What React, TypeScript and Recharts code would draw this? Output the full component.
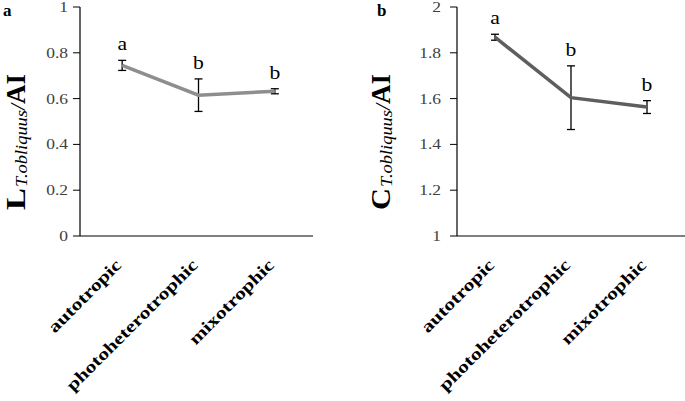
import React from 'react';
import { LineChart, Line, XAxis, YAxis, ErrorBar, LabelList } from 'recharts';

const CATEGORIES = ['autotropic', 'photoheterotrophic', 'mixotrophic'];
const LETTERS = ['a', 'b', 'b'];

// panel a: L / AI
const L_MEAN = [0.745, 0.615, 0.632];
const L_ERR = [0.022, 0.071, 0.011];
const L_TICKS = [0, 0.2, 0.4, 0.6, 0.8, 1];

// panel b: C / AI
const C_MEAN = [1.868, 1.604, 1.563];
const C_ERR = [0.013, 0.139, 0.028];
const C_TICKS = [1, 1.2, 1.4, 1.6, 1.8, 2];

const SERIF = '"Liberation Serif", "Times New Roman", serif';

const buildRows = (mean: number[], err: number[]) =>
  CATEGORIES.map((name, i) => ({
    name,
    mean: mean[i],
    err: err[i],
    top: mean[i] + err[i],
    letter: LETTERS[i],
  }));

const rowsL = buildRows(L_MEAN, L_ERR);
const rowsC = buildRows(C_MEAN, C_ERR);

function YTick(props: any) {
  const { x, y, payload } = props;
  return (
    <text
      transform={`translate(${x},${y}) scale(1.25,1)`}
      textAnchor="end"
      dy="0.36em"
      fontFamily={SERIF}
      fontSize={14}
      fill="#404040"
    >
      {payload.value}
    </text>
  );
}

function XTick(props: any) {
  const { x, y, payload } = props;
  return (
    <text
      transform={`translate(${x - 4},${y}) rotate(-45) scale(1.27,1)`}
      textAnchor="end"
      dy="0.35em"
      fontFamily={SERIF}
      fontSize={17}
      fontWeight="bold"
      fill="#000"
    >
      {payload.value}
    </text>
  );
}

// custom content gets the raw point, so the gap above the error bar is applied here
function Letter(props: any) {
  const { x, y, value } = props;
  return (
    <text
      transform={`translate(${x},${y - 10}) scale(1.2,1)`}
      textAnchor="middle"
      fontFamily={SERIF}
      fontSize={18}
      fill="#000"
    >
      {value}
    </text>
  );
}

// rotated y title: big bold head letter, italic subscript, bold "/AI"
function Title({ head, panel, baseX, panelX }: any) {
  return (
    <g fontFamily={SERIF} fill="#000">
      <text x={panelX} y={16} fontSize={17} fontWeight="bold">{panel}</text>
      <g transform={`translate(${baseX},210) rotate(-90)`}>
        <text x={0} y={0} fontSize={27} fontWeight="bold" textLength={22} lengthAdjust="spacingAndGlyphs">{head}</text>
        <text x={23} y={2} fontSize={16} fontStyle="italic" textLength={77} lengthAdjust="spacingAndGlyphs">T.obliquus</text>
        <text x={100} y={0} fontSize={22} fontStyle="italic">/</text>
        <text x={106} y={0} fontSize={27} fontWeight="bold">AI</text>
      </g>
    </g>
  );
}

function Panel({ rows, ticks, domain, color, width, right, yWidth, padLeft, tickMargin, head, panel, baseX, panelX }: any) {
  return (
    <LineChart
      width={width}
      height={401}
      data={rows}
      margin={{ top: 7, right, bottom: 0, left: 0 }}
    >
      <XAxis
        dataKey="name"
        scale="band"
        height={165}
        padding={{ left: padLeft, right: 0 }}
        axisLine={{ stroke: '#000', strokeWidth: 1.2 }}
        tickLine={false}
        tickSize={0}
        tickMargin={26}
        interval={0}
        tick={<XTick />}
      />
      <YAxis
        width={yWidth}
        type="number"
        domain={domain}
        ticks={ticks}
        interval={0}
        axisLine={{ stroke: '#000', strokeWidth: 1.2 }}
        tickLine={{ stroke: '#000', strokeWidth: 1 }}
        tickSize={7}
        tickMargin={tickMargin}
        tick={<YTick />}
        label={{ content: () => <Title head={head} panel={panel} baseX={baseX} panelX={panelX} /> }}
      />
      <Line
        dataKey="mean"
        stroke={color}
        strokeWidth={3.5}
        dot={false}
        activeDot={false}
        isAnimationActive={false}
      >
        <ErrorBar dataKey="err" width={4} stroke="#000" strokeWidth={1.3} direction="y" />
      </Line>
      <Line
        dataKey="top"
        stroke="none"
        dot={false}
        activeDot={false}
        legendType="none"
        isAnimationActive={false}
      >
        <LabelList dataKey="letter" content={<Letter />} />
      </Line>
    </LineChart>
  );
}

export default function App() {
  return (
    <div style={{ position: 'absolute', left: 0, top: 0, width: 685, height: 401, background: '#fff' }}>
      <div style={{ position: 'absolute', left: 0, top: 0 }}>
        <Panel
          rows={rowsL}
          ticks={L_TICKS}
          domain={[0, 1]}
          color="#8e8e8e"
          width={340}
          right={27}
          yWidth={80}
          padLeft={4}
          tickMargin={5}
          head="L"
          panel="a"
          baseX={25}
          panelX={3}
        />
      </div>
      <div style={{ position: 'absolute', left: 340, top: 0 }}>
        <Panel
          rows={rowsC}
          ticks={C_TICKS}
          domain={[1, 2]}
          color="#5e5e5e"
          width={345}
          right={0}
          yWidth={117}
          padLeft={0}
          tickMargin={9}
          head="C"
          panel="b"
          baseX={50}
          panelX={37}
        />
      </div>
    </div>
  );
}
